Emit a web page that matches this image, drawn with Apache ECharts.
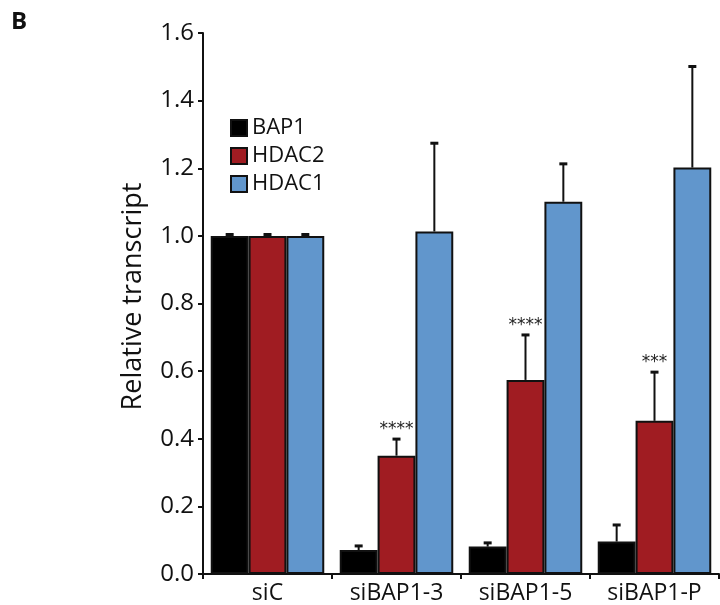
<!DOCTYPE html>
<html>
<head>
<meta charset="utf-8">
<script src="https://cdn.jsdelivr.net/npm/echarts@6/dist/echarts.min.js"></script>
<style>html,body{margin:0;padding:0;background:#fff}#c{width:720px;height:605px}</style>
</head>
<body>
<div id="c"></div>
<script>
const categories = ['siC', 'siBAP1-3', 'siBAP1-5', 'siBAP1-P'];
const seriesNames = ['BAP1', 'HDAC2', 'HDAC1'];
const bap1 = [1.0, 0.071, 0.081, 0.096];
const bap1Err = [0.004, 0.012, 0.011, 0.049];
const hdac2 = [1.0, 0.350, 0.574, 0.453];
const hdac2Err = [0.004, 0.049, 0.133, 0.144];
const hdac1 = [1.0, 1.013, 1.101, 1.202];
const hdac1Err = [0.004, 0.261, 0.112, 0.299];
const hdac2Sig = ['', '****', '****', '***'];
const yTicks = ['0.0', '0.2', '0.4', '0.6', '0.8', '1.0', '1.2', '1.4', '1.6'];

const colors = ['#000000', '#A01C22', '#6196CC'];
const FONT = 'Open Sans';
const CAT_GAP = 0.12;

const means = [bap1, hdac2, hdac1];
const errs = [bap1Err, hdac2Err, hdac1Err];
const sigs = [null, hdac2Sig, null];

function errSeries(k) {
  return {
    type: 'custom',
    name: seriesNames[k] + ' err',
    z: 5,
    silent: true,
    data: categories.map((c, i) => [i, means[k][i], errs[k][i]]),
    renderItem: function (params, api) {
      const ci = api.value(0);
      const m = api.value(1);
      const e = api.value(2);
      const center = api.coord([ci, 0])[0];
      const band = api.size([1, 0])[0];
      const bw = band * (1 - CAT_GAP) / 3;
      const cx = center + (k - 1) * bw;
      const yb = api.coord([ci, m])[1];
      const yt = api.coord([ci, m + e])[1];
      const children = [
        { type: 'line', shape: { x1: cx, y1: yb, x2: cx, y2: yt }, style: { stroke: '#111', lineWidth: 2 } },
        { type: 'line', shape: { x1: cx - 4, y1: yt, x2: cx + 4, y2: yt }, style: { stroke: '#111', lineWidth: 3 } }
      ];
      const s = sigs[k] ? sigs[k][params.dataIndex] : '';
      if (s) {
        children.push({ type: 'text', style: { text: s, x: cx, y: yt - 1, align: 'center', verticalAlign: 'bottom', font: '17px "DejaVu Sans"', fill: '#222' } });
      }
      return { type: 'group', children: children };
    }
  };
}

const chart = echarts.init(document.getElementById('c'), null, { renderer: 'canvas' });
chart.setOption({
  animation: false,
  backgroundColor: '#fff',
  textStyle: { fontFamily: FONT },
  graphic: [{ type: 'text', left: 11, top: 10, style: { text: 'B', font: 'bold 24px "Open Sans"', fill: '#111' } }],
  grid: { left: 203, right: 1, top: 33, bottom: 31, containLabel: false },
  legend: {
    orient: 'vertical', left: 225, top: 112, itemWidth: 16, itemHeight: 16, itemGap: 6,
    icon: 'rect',
    data: seriesNames,
    textStyle: { fontFamily: FONT, fontSize: 22, color: '#111' }
  },
  xAxis: {
    type: 'category', data: categories,
    axisLine: { lineStyle: { color: '#111', width: 2 } },
    axisTick: { show: true, length: 5, lineStyle: { color: '#111', width: 2 } },
    axisLabel: { fontFamily: FONT, fontSize: 23, color: '#111', margin: 8 }
  },
  yAxis: {
    type: 'value', min: 0, max: 1.6, interval: 0.2,
    name: 'Relative transcript', nameLocation: 'middle', nameGap: 56, nameRotate: 90,
    nameTextStyle: { fontFamily: FONT, fontSize: 27, color: '#111', padding: [0, 0, 0, 14] },
    splitLine: { show: false },
    axisLine: { show: true, lineStyle: { color: '#111', width: 2 } },
    axisTick: { show: true, length: 5, lineStyle: { color: '#111', width: 2 } },
    axisLabel: { fontFamily: FONT, fontSize: 24, color: '#111', margin: 9, formatter: (v) => yTicks[Math.round(v / 0.2)] }
  },
  series: [
    ...seriesNames.map((n, k) => ({
      type: 'bar', name: n, data: means[k],
      barGap: '0%', barCategoryGap: (CAT_GAP * 100) + '%',
      itemStyle: { color: colors[k], borderColor: '#111', borderWidth: 2 }
    })),
    errSeries(0), errSeries(1), errSeries(2)
  ]
});
</script>
</body>
</html>
